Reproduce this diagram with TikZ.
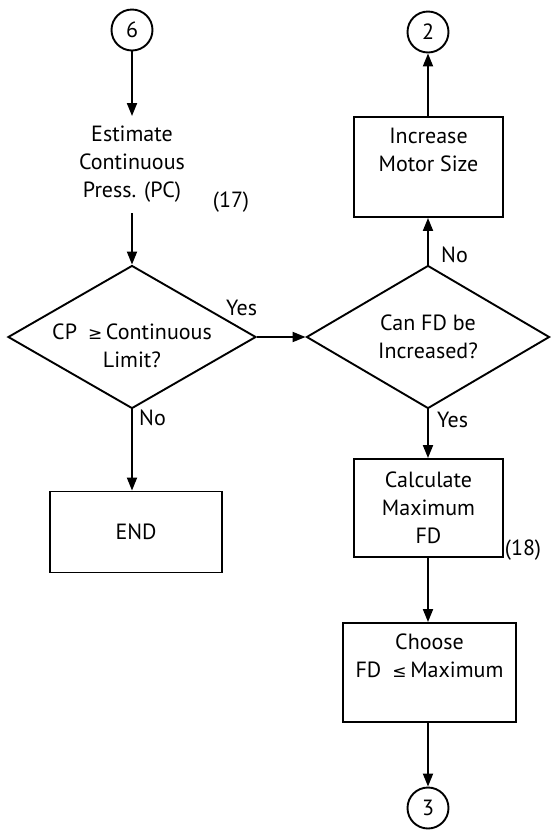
\documentclass[tikz,border=0pt]{standalone}
\usepackage{fontspec}
\setmainfont{PT Sans}
\newfontfamily\symfont{DejaVu Sans}
\usetikzlibrary{shapes.geometric,arrows.meta}
\newcommand{\gesym}{{\symfont\fontsize{17}{17}\selectfont ≥}}
\newcommand{\lesym}{{\symfont\fontsize{17}{17}\selectfont ≤}}
\begin{document}
\begin{tikzpicture}[x=1pt,y=-1pt,
  every node/.style={font=\fontsize{22}{28}\selectfont},
  ln/.style={line width=1.9pt},
  arr/.style={ln,-{Triangle[length=13pt,width=10pt]}},
  conn/.style={draw,circle,ln,minimum size=41pt,inner sep=0pt},
  box/.style={draw,rectangle,ln,inner sep=0pt,align=center},
  dia/.style={draw,diamond,ln,inner sep=0pt,aspect=1.7},
  txt/.style={align=center,inner sep=0pt}
]
\useasboundingbox (0,0) rectangle (550,831);
% left column
\node[conn] (c6) at (132,30) {6};
\node[txt] (est) at (132,164) {Estimate\\Continuous\\Press. (PC)};
\coordinate (estTop) at (132,116);
\coordinate (estBot) at (132,213);
\node[txt] (n17) at (231,202) {(17)};
\node[dia,minimum width=248pt,minimum height=143pt,
  label={[txt,yshift=-9pt]center:{CP\enspace\gesym\,Continuous\\Limit?}}] (d1) at (132,337) {};
\node[txt,anchor=west] (yes1) at (226,308) {Yes};
\node[txt,anchor=west] (no1) at (139,418) {No};
\node[box,minimum width=172pt,minimum height=81pt] (endb) at (136,532) {END};
% right column
\node[dia,minimum width=243pt,minimum height=143pt,
  label={[txt]center:{Can FD be\\Increased?}}] (d2) at (428,337) {};
\node[txt,anchor=west] (no2) at (441,255) {No};
\node[txt,anchor=west] (yes2) at (437,420) {Yes};
\node[box,minimum width=149pt,minimum height=100pt] (inc) at (428.5,167) {Increase\\Motor Size\\[6pt]};
\node[conn] (c2) at (428,32) {2};
\node[box,minimum width=149pt,minimum height=98pt] (calc) at (428.5,508) {Calculate\\Maximum\\FD};
\node[txt] (n18) at (523,550) {(18)};
\node[box,minimum width=173pt,minimum height=99pt] (choose) at (429.5,672.5) {Choose\\FD\enspace\lesym\,Maximum\\[6pt]};
\node[conn] (c3) at (428,808) {3};
% connectors
\draw[arr] (c6) -- (estTop);
\draw[arr] (estBot) -- (d1.north);
\draw[arr] (d1.south) -- (d1.south |- endb.north);
\draw[arr] (d1.east) -- (d2.west);
\draw[arr] (d2.north) -- (d2.north |- inc.south);
\draw[arr] (inc.north -| c2) -- (c2.south);
\draw[arr] (d2.south) -- (d2.south |- calc.north);
\draw[arr] (calc.south -| d2.south) -- (d2.south |- choose.north);
\draw[arr] (choose.south -| c3) -- (c3.north);
\end{tikzpicture}
\end{document}
